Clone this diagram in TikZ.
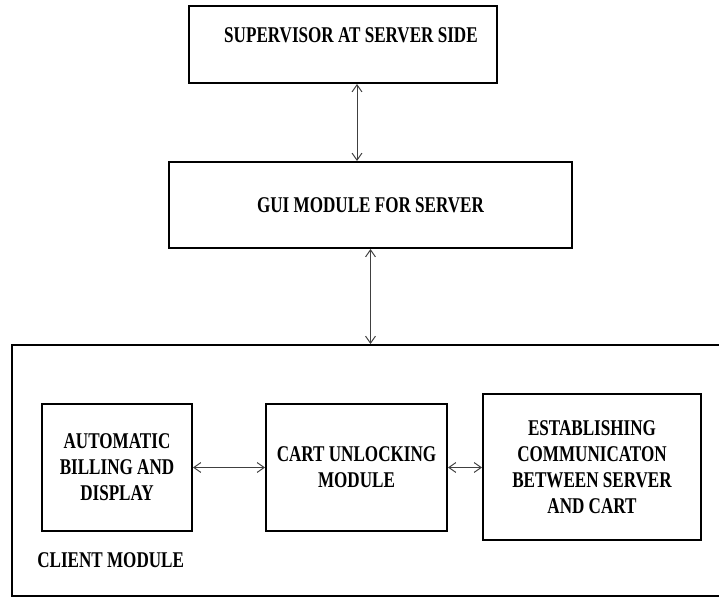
\documentclass[tikz,border=0pt]{standalone}
\usepackage{fontspec}
\setmainfont[FakeStretch=0.76]{Liberation Serif}
\usepackage{tikz}
\usetikzlibrary{shapes, arrows.meta, positioning, calc}

\begin{document}
\begin{tikzpicture}[
        box/.style={
            rectangle,
            draw=black,
            line width=1.4pt,
            align=center,
            font=\fontsize{16pt}{18.4pt}\selectfont\bfseries,
            inner sep=0pt
        },
        arrow/.style={
            {Straight Barb[length=5pt,width=7pt]}-{Straight Barb[length=5pt,width=7pt]},
            line width=0.7pt,
            black!75
        },
        lbl/.style={
            font=\fontsize{16pt}{18.4pt}\selectfont\bfseries,
            inner sep=0pt
        }
    ]
    \useasboundingbox (0,0) rectangle (17.975,-14.95);
    \clip (0,0) rectangle (17.975,-14.95);

    % Server side
    \node[box, minimum width=7.7cm, minimum height=1.925cm, text depth=0.45cm] (supervisor) at (8.575,-1.1125) {\hspace*{0.4cm}SUPERVISOR AT SERVER SIDE};
    \node[box, minimum width=10.075cm, minimum height=2.15cm] (gui) at (9.2625,-5.125) {GUI MODULE FOR SERVER};

    % Client side
    \node[box, line width=1.2pt, minimum width=17.825cm, minimum height=6.275cm] (client) at (9.2125,-11.76) {};
    \node[box, minimum width=3.75cm, minimum height=3.175cm] (billing) at (2.925,-11.6875) {AUTOMATIC\\ BILLING AND\\ DISPLAY};
    \node[box, minimum width=4.525cm, minimum height=3.175cm] (unlocking) at (8.9125,-11.6875) {CART UNLOCKING\\ MODULE};
    \node[box, minimum width=5.45cm, minimum height=3.65cm] (comm) at (14.8,-11.675) {ESTABLISHING\\ COMMUNICATON\\ BETWEEN SERVER\\ AND CART};
    \node[lbl, anchor=west] (clientlbl) at (0.925,-14.0125) {CLIENT MODULE};

    % Arrows
    \draw[arrow] ([xshift=0.35cm]supervisor.south) -- ([xshift=0.35cm]supervisor.south |- gui.north);
    \draw[arrow] (gui.south) -- (gui.south |- client.north);
    \draw[arrow] (billing.east) -- (billing.east -| unlocking.west);
    \draw[arrow] (unlocking.east) -- (unlocking.east -| comm.west);

\end{tikzpicture}
\end{document}
